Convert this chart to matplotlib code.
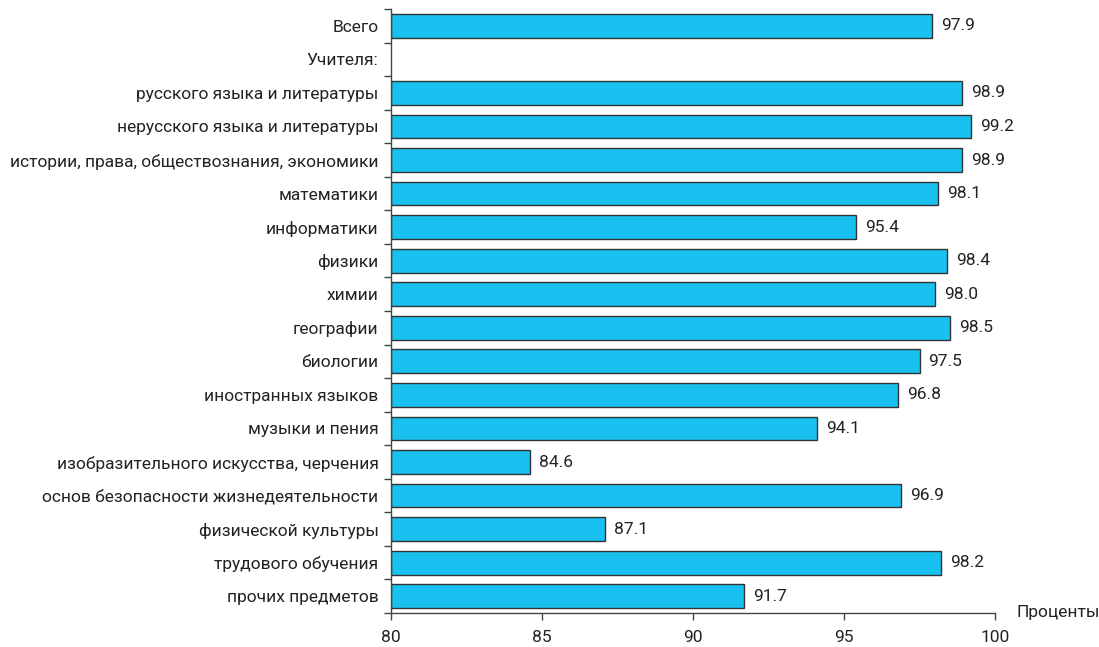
import matplotlib
matplotlib.use("Agg")
import matplotlib.pyplot as plt
import numpy as np

categories = [
    "Всего",
    "Учителя:",
    "русского языка и литературы",
    "нерусского языка и литературы",
    "истории, права, обществознания, экономики",
    "математики",
    "информатики",
    "физики",
    "химии",
    "географии",
    "биологии",
    "иностранных языков",
    "музыки и пения",
    "изобразительного искусства, черчения",
    "основ безопасности жизнедеятельности",
    "физической культуры",
    "трудового обучения",
    "прочих предметов",
]
values = [97.9, None, 98.9, 99.2, 98.9, 98.1, 95.4, 98.4, 98.0, 98.5, 97.5,
          96.8, 94.1, 84.6, 96.9, 87.1, 98.2, 91.7]
xticks = [80, 85, 90, 95, 100]

plt.rcParams['font.family'] = ['Roboto', 'DejaVu Sans']

fig = plt.figure(figsize=(10.99, 6.47), dpi=100)
ax = fig.add_axes([391/1099, 34/647, 604/1099, 604/647])

n = len(categories)
y = np.arange(n)
for yi, v in zip(y, values):
    if v is None:
        continue
    ax.barh(yi, v - 80, left=80, height=0.71, color='#18C1F0', edgecolor='#333333', linewidth=1.0)
    ax.text(v + 0.3, yi, f"{v:.1f}", va='center', ha='left', fontsize=12.5, color='#222222')

ax.set_xlim(80, 100)
ax.set_ylim(n - 0.5, -0.5)
ax.set_xticks(xticks)
ax.set_xticklabels([str(t) for t in xticks], fontsize=12.5, color='#222222')
ax.set_yticks(y)
ax.set_yticklabels(categories, fontsize=12.5, color='#222222')
ax.set_yticks(np.arange(n + 1) - 0.5, minor=True)
ax.tick_params(axis='y', which='major', length=0, pad=9)
ax.tick_params(axis='y', which='minor', length=5, width=1, color='#444444')
ax.tick_params(axis='x', which='major', length=5, width=1, color='#444444', pad=7)
for s in ['top', 'right']:
    ax.spines[s].set_visible(False)
for s in ['left', 'bottom']:
    ax.spines[s].set_color('#444444')
    ax.spines[s].set_linewidth(1.0)

fig.text(1016/1099, 1 - 613/647, "Проценты", ha='left', va='center', fontsize=12.5, color='#222222')

fig.savefig("out.png", dpi=100)
